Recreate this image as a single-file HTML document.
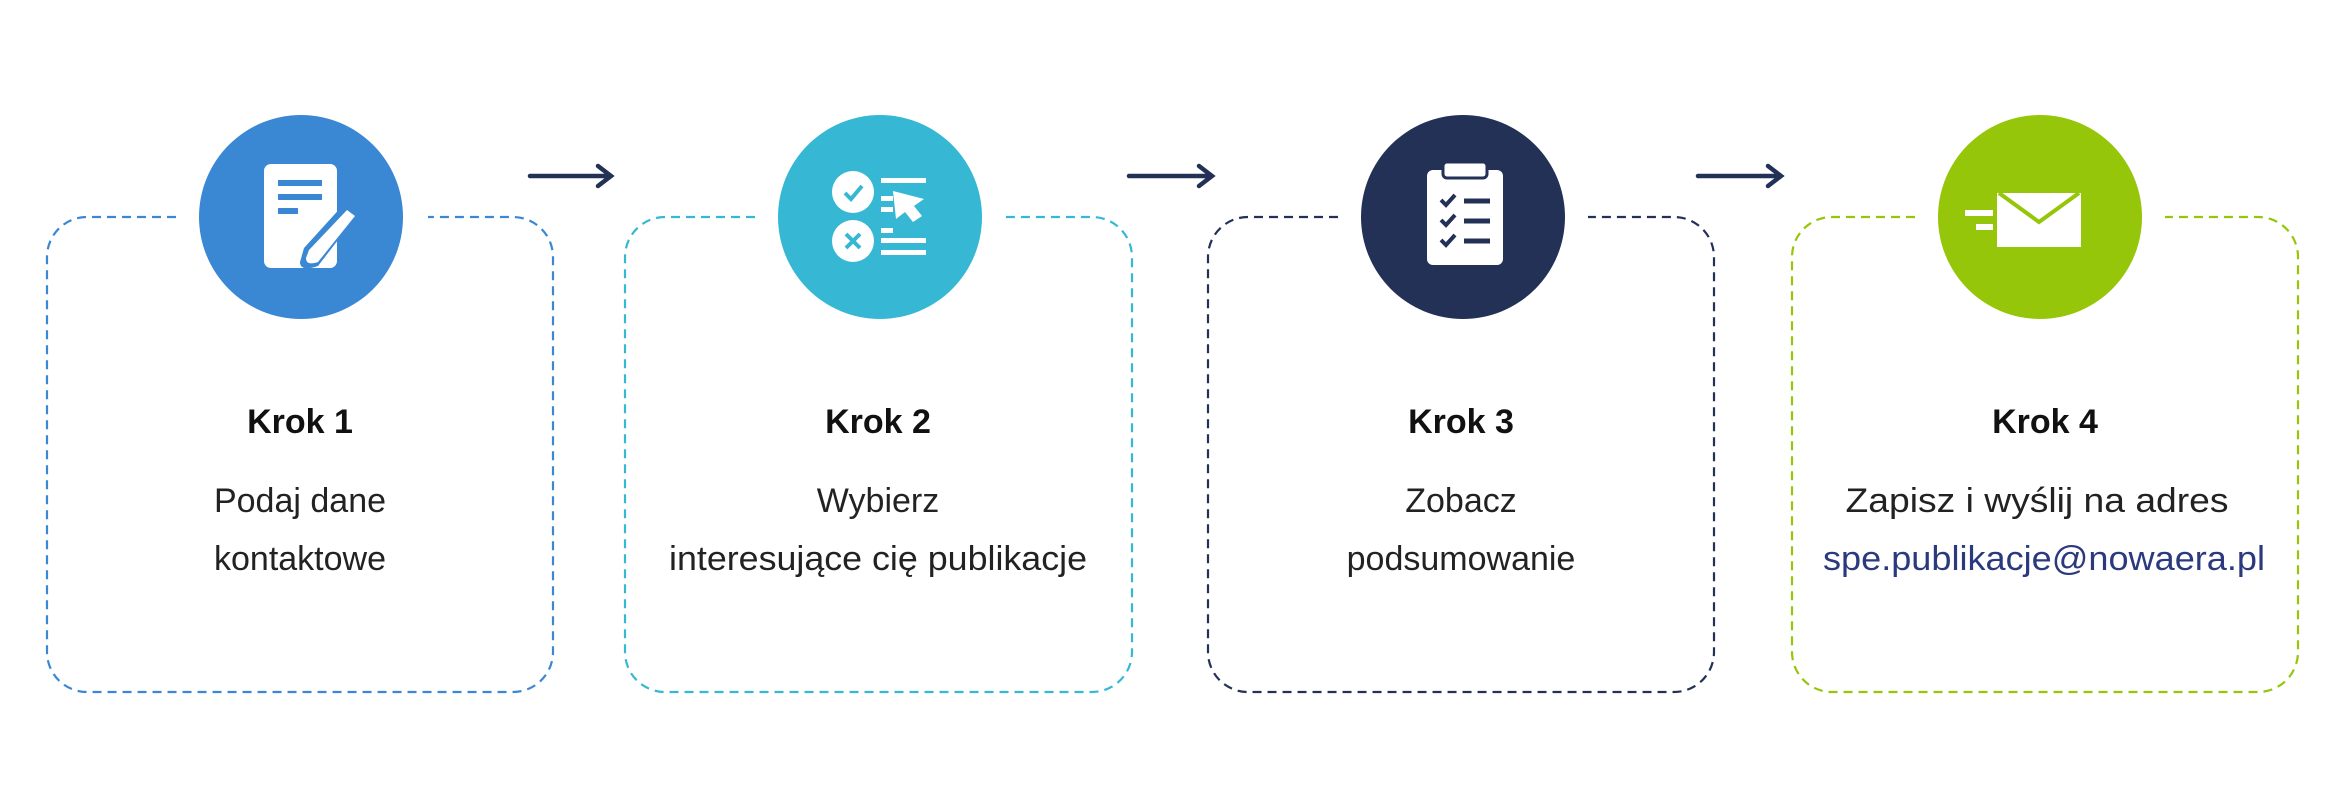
<!DOCTYPE html>
<html><head><meta charset="utf-8"><style>
html,body{margin:0;padding:0;background:#fff;}
svg{display:block}
text{font-family:"Liberation Sans",Arial,sans-serif;}
.k{font-weight:bold;font-size:34px;fill:#111;}
.t{font-size:34px;fill:#222;}
</style></head><body>
<svg width="2339" height="788" viewBox="0 0 2339 788" xmlns="http://www.w3.org/2000/svg">
<defs>
<clipPath id="c1"><path d="M0 0H2339V788H0Z M176 200H426V240H176Z" clip-rule="evenodd"/></clipPath>
</defs>
<!-- boxes: draw with gap near circles -->
<g fill="none" stroke-width="2.2" stroke-dasharray="9 6">
<path d="M176 217H87A40 40 0 0 0 47 257V652A40 40 0 0 0 87 692H513A40 40 0 0 0 553 652V257A40 40 0 0 0 513 217H428" stroke="#3a87d4"/>
<path d="M755 217H665A40 40 0 0 0 625 257V652A40 40 0 0 0 665 692H1092A40 40 0 0 0 1132 652V257A40 40 0 0 0 1092 217H1005" stroke="#36b8d4"/>
<path d="M1338 217H1248A40 40 0 0 0 1208 257V652A40 40 0 0 0 1248 692H1674A40 40 0 0 0 1714 652V257A40 40 0 0 0 1674 217H1588" stroke="#233157"/>
<path d="M1915 217H1832A40 40 0 0 0 1792 257V652A40 40 0 0 0 1832 692H2258A40 40 0 0 0 2298 652V257A40 40 0 0 0 2258 217H2165" stroke="#95c60a"/>
</g>
<!-- arrows -->
<g stroke="#233157" stroke-width="4.5" fill="none" stroke-linecap="round">
<path d="M530 176H610M598 166L611 176L598 186"/>
<path d="M1129 176H1211M1199 166L1212 176L1199 186"/>
<path d="M1698 176H1780M1768 166L1781 176L1768 186"/>
</g>
<!-- circles -->
<circle cx="301" cy="217" r="102" fill="#3a87d4"/>
<circle cx="880" cy="217" r="102" fill="#36b8d4"/>
<circle cx="1463" cy="217" r="102" fill="#233157"/>
<circle cx="2040" cy="217" r="102" fill="#95c60a"/>
<!-- icon 1 -->
<rect x="264" y="164" width="73" height="104" rx="7" fill="#fff"/>
<rect x="278" y="180" width="44" height="6" fill="#3a87d4"/>
<rect x="278" y="194" width="44" height="6" fill="#3a87d4"/>
<rect x="278" y="208" width="20" height="6" fill="#3a87d4"/>
<path d="M344 204 L358 214 L318 266 Q300 272 300 262 L304 248 Z" fill="#3a87d4"/>
<path d="M347 210 L355 216 L318 262 Q306 266 306 258 L309 250 Z" fill="#fff"/>
<!-- icon 2 -->
<circle cx="853" cy="192" r="21" fill="#fff"/>
<circle cx="853" cy="241" r="21" fill="#fff"/>
<path d="M845 193L851 199L862 186" stroke="#36b8d4" stroke-width="4" fill="none"/>
<path d="M846 234L860 248M860 234L846 248" stroke="#36b8d4" stroke-width="4"/>
<g fill="#fff">
<rect x="881" y="178" width="45" height="5"/>
<rect x="881" y="196" width="12" height="5"/>
<rect x="881" y="207" width="12" height="5"/>
<rect x="881" y="228" width="12" height="5"/>
<rect x="881" y="238" width="45" height="5"/>
<rect x="881" y="250" width="45" height="5"/>
<path d="M893 191 L924 199 L914 206 L922 216 L913 222 L905 212 L896 219 Z"/>
</g>
<!-- icon 3 -->
<rect x="1427" y="170" width="76" height="95" rx="6" fill="#fff"/>
<rect x="1443" y="162" width="44" height="16" rx="4" fill="#fff" stroke="#233157" stroke-width="3"/>
<g stroke="#233157" stroke-width="4" fill="none">
<path d="M1441 200L1446 205L1455 195M1441 220L1446 225L1455 215M1441 240L1446 245L1455 235"/>
<path d="M1464 201H1490M1464 221H1490M1464 241H1490" stroke-width="5"/>
</g>
<!-- icon 4 -->
<rect x="1997" y="193" width="84" height="54" fill="#fff"/>
<path d="M1999 193L2039 222L2079 193" stroke="#95c60a" stroke-width="4" fill="none"/>
<rect x="1965" y="210" width="28" height="6" fill="#fff"/>
<rect x="1976" y="224" width="17" height="6" fill="#fff"/>
<!-- texts -->
<g text-anchor="middle">
<text class="k" x="300" y="433">Krok 1</text>
<text class="t" x="300" y="512">Podaj dane</text>
<text class="t" x="300" y="570">kontaktowe</text>
<text class="k" x="878" y="433">Krok 2</text>
<text class="t" x="878" y="512">Wybierz</text>
<text class="t" x="878" y="570" textLength="418" lengthAdjust="spacingAndGlyphs">interesujące cię publikacje</text>
<text class="k" x="1461" y="433">Krok 3</text>
<text class="t" x="1461" y="512">Zobacz</text>
<text class="t" x="1461" y="570">podsumowanie</text>
<text class="k" x="2045" y="433">Krok 4</text>
<text class="t" x="2037" y="512" textLength="383" lengthAdjust="spacingAndGlyphs">Zapisz i wyślij na adres</text>
<text class="t" x="2044" y="570" textLength="442" lengthAdjust="spacingAndGlyphs" style="fill:#2b3a7e">spe.publikacje@nowaera.pl</text>
</g>
</svg>
</body></html>
